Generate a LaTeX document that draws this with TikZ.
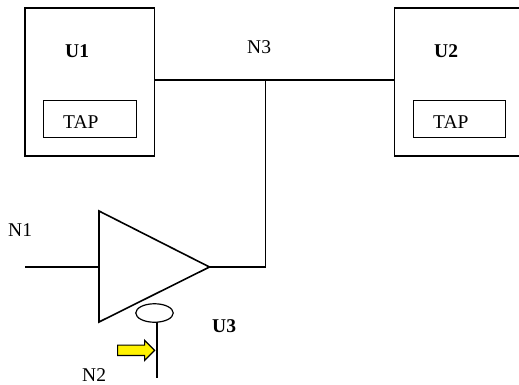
\documentclass[tikz,border=0pt]{standalone}
\usepackage{fontspec}
\setmainfont{Liberation Serif}
\usetikzlibrary{shapes.arrows,shapes.geometric}
\tikzset{
  wire/.style={draw=black,line width=1.6pt},
  unitbox/.style={draw=black,line width=1.6pt,minimum width=#1,minimum height=148pt,inner sep=0pt},
  tapbox/.style={draw=black,line width=1.05pt,minimum width=92.5pt,minimum height=36.5pt,inner sep=0pt},
  lbl/.style={anchor=base west,inner sep=0pt,font=\fontsize{19.5pt}{20pt}\selectfont},
  blbl/.style={anchor=base west,inner sep=0pt,font=\fontsize{19.5pt}{20pt}\selectfont\bfseries},
  flag/.style={shape=single arrow,draw=black,fill=yellow,line width=1.2pt,inner sep=4.6pt,
    minimum width=19pt,minimum height=37pt,single arrow head extend=4.8pt,single arrow tip angle=90}
}
\begin{document}
\begin{tikzpicture}[x=1pt,y=-1pt]
\useasboundingbox (0,0) rectangle (519,385);
% units
\node[unitbox=129.5pt] (u1) at (89.7,82) {};
\node[unitbox=129.5pt] (u2) at (459.2,82) {};
\node[tapbox] (tap1) at (89.9,118.8) {};
\node[tapbox] (tap2) at (459.4,118.8) {};
% labels
\node[blbl] (lu1) at (65,58) {U1};
\node[blbl] (lu2) at (434,58) {U2};
\node[blbl] (lu3) at (212,332.5) {U3};
\node[lbl] (ltap1) at (63,128.5) {TAP};
\node[lbl] (ltap2) at (433,128.5) {TAP};
\node[lbl] (ln3) at (247,54) {N3};
\node[lbl] (ln1) at (8,236.5) {N1};
\node[lbl] (ln2) at (82,381) {N2};
% triangle
\coordinate (ta) at (99,211);
\coordinate (tb) at (99,322);
\coordinate (tip) at (209.5,267);
\coordinate (tin) at (99,267);
\draw[wire,line join=miter] (ta) -- (tb) -- (tip) -- cycle;
% connectors
\coordinate (n1end) at (25,267);
\coordinate (tee) at (265.5,80);
\coordinate (corner) at (265.5,267);
\draw[wire] (n1end) -- (tin);
\draw[wire] (tip) -- (corner) -- (tee);
\draw[wire] (u1.east |- tee) -- (tee) -- (u2.west |- tee);
% ellipse and stem
\node[draw=black,line width=1.2pt,ellipse,minimum width=37.5pt,minimum height=18.5pt,inner sep=0pt] (oval) at (154.5,313) {};
\coordinate (stemtop) at (157,322);
\coordinate (stemend) at (157,378);
\draw[black,line width=1.2pt] (stemtop) -- (stemend);
\node[flag] (arrow) at (133.5,350.3) {};
\end{tikzpicture}
\end{document}
